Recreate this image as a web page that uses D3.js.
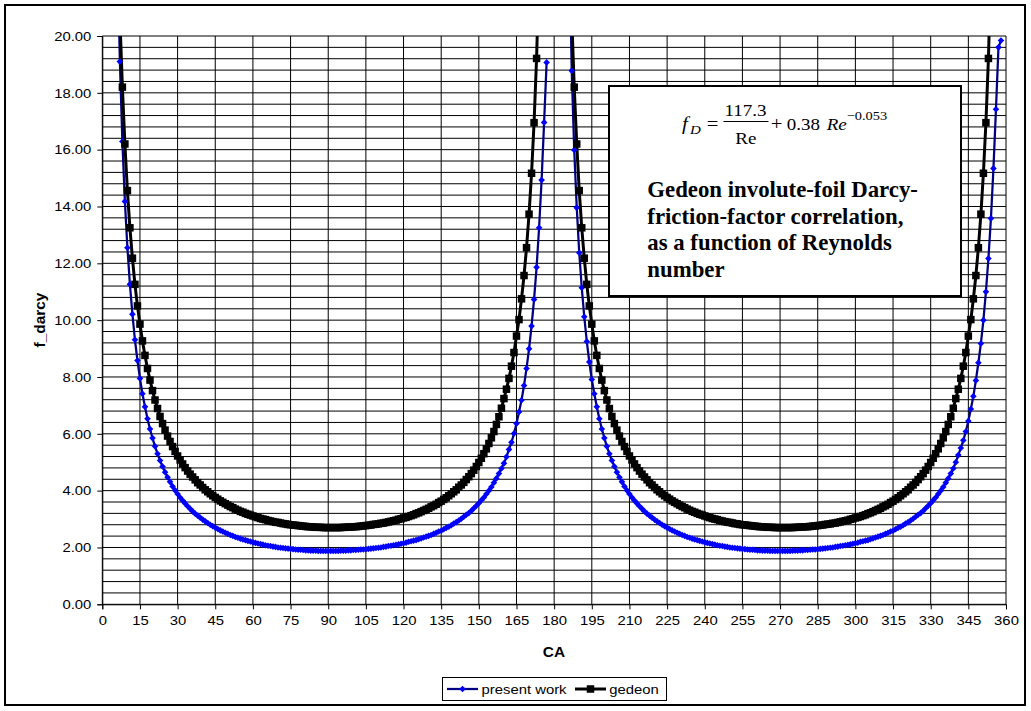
<!DOCTYPE html>
<html><head><meta charset="utf-8">
<script src="https://cdn.jsdelivr.net/npm/d3@7"></script>
<style>body{margin:0;background:#fff;}svg{display:block;}</style>
</head><body>
<svg id="chart" width="1031" height="711"></svg>
<script>
// ---------------- data ----------------
const xTickValues = [0,15,30,45,60,75,90,105,120,135,150,165,180,195,210,225,240,255,270,285,300,315,330,345,360];
const yTickValues = [0,2,4,6,8,10,12,14,16,18,20];
const seriesNames = ["present work", "gedeon"];

// present work: one value per degree of CA, starting at CA = presentStart (null = no point)
const presentStart = 6;
const present = [
 23.07,19.10,16.29,14.18,12.55,11.26,10.21,9.31,8.58,7.95,
 7.41,6.95,6.53,6.17,5.85,5.56,5.30,5.06,4.85,4.65,
 4.47,4.31,4.15,4.01,3.88,3.76,3.65,3.55,3.45,3.36,
 3.27,3.19,3.12,3.05,2.98,2.92,2.86,2.80,2.75,2.70,
 2.65,2.60,2.56,2.52,2.48,2.44,2.41,2.37,2.34,2.31,
 2.28,2.26,2.23,2.21,2.18,2.16,2.14,2.12,2.10,2.08,
 2.06,2.05,2.03,2.02,2.00,1.99,1.98,1.97,1.96,1.95,
 1.94,1.93,1.92,1.92,1.91,1.90,1.90,1.89,1.89,1.89,
 1.88,1.88,1.88,1.88,1.88,1.88,1.88,1.88,1.88,1.89,
 1.89,1.89,1.90,1.90,1.91,1.91,1.92,1.93,1.93,1.94,
 1.95,1.96,1.97,1.98,1.99,2.00,2.02,2.03,2.05,2.06,
 2.08,2.09,2.11,2.13,2.15,2.17,2.20,2.22,2.24,2.26,
 2.29,2.32,2.35,2.38,2.41,2.44,2.48,2.52,2.56,2.59,
 2.64,2.69,2.73,2.78,2.84,2.89,2.95,3.01,3.08,3.15,
 3.21,3.29,3.38,3.47,3.56,3.66,3.76,3.88,4.00,4.13,
 4.28,4.43,4.60,4.78,4.96,5.19,5.45,5.70,6.01,6.36,
 6.77,7.18,7.70,8.30,8.99,9.79,10.73,11.86,13.25,14.93,
 16.96,19.07,
 null,null,null,null,null,null,null,null,
 23.50,18.78,15.99,13.96,12.37,11.14,10.12,9.25,8.53,7.91,
 7.41,6.95,6.53,6.17,5.85,5.56,5.30,5.06,4.85,4.65,
 4.47,4.31,4.15,4.01,3.88,3.76,3.65,3.55,3.45,3.36,
 3.27,3.19,3.12,3.05,2.98,2.92,2.86,2.80,2.75,2.70,
 2.65,2.60,2.56,2.52,2.48,2.44,2.41,2.37,2.34,2.31,
 2.28,2.26,2.23,2.21,2.18,2.16,2.14,2.12,2.10,2.08,
 2.06,2.05,2.03,2.02,2.00,1.99,1.98,1.97,1.96,1.95,
 1.94,1.93,1.92,1.92,1.91,1.90,1.90,1.89,1.89,1.89,
 1.88,1.88,1.88,1.88,1.88,1.88,1.88,1.88,1.88,1.89,
 1.89,1.89,1.90,1.90,1.91,1.91,1.92,1.93,1.93,1.94,
 1.95,1.96,1.97,1.98,1.99,2.00,2.02,2.03,2.05,2.06,
 2.08,2.09,2.11,2.13,2.15,2.17,2.20,2.22,2.24,2.26,
 2.29,2.32,2.35,2.38,2.41,2.44,2.48,2.52,2.56,2.59,
 2.64,2.69,2.73,2.78,2.84,2.89,2.95,3.01,3.08,3.15,
 3.21,3.29,3.38,3.47,3.56,3.66,3.76,3.88,4.00,4.13,
 4.28,4.43,4.60,4.78,5.00,5.25,5.50,5.77,6.08,6.45,
 6.87,7.32,7.88,8.50,9.18,10.00,11.00,12.17,13.58,15.34,
 17.42,19.60,19.84
];

// gedeon: one value per degree of CA, starting at CA = gedeonStart (null = no point)
const gedeonStart = 7;
const gedeon = [
 20.64,18.20,16.20,14.56,13.25,12.18,11.26,10.50,9.86,9.27,
 8.76,8.30,7.89,7.52,7.19,6.89,6.61,6.36,6.13,5.92,
 5.73,5.55,5.38,5.22,5.08,4.94,4.81,4.69,4.58,4.48,
 4.38,4.28,4.20,4.11,4.03,3.96,3.89,3.82,3.76,3.70,
 3.64,3.59,3.54,3.49,3.44,3.40,3.35,3.31,3.27,3.24,
 3.20,3.17,3.14,3.11,3.08,3.05,3.02,3.00,2.98,2.95,
 2.93,2.91,2.89,2.88,2.86,2.84,2.83,2.81,2.80,2.79,
 2.78,2.77,2.76,2.75,2.74,2.73,2.73,2.72,2.71,2.71,
 2.71,2.70,2.70,2.70,2.70,2.70,2.70,2.70,2.70,2.71,
 2.71,2.72,2.72,2.73,2.73,2.74,2.75,2.76,2.77,2.78,
 2.79,2.81,2.82,2.83,2.85,2.86,2.88,2.90,2.92,2.94,
 2.96,2.99,3.01,3.04,3.06,3.09,3.12,3.15,3.19,3.22,
 3.26,3.30,3.34,3.38,3.43,3.47,3.52,3.58,3.63,3.69,
 3.75,3.82,3.89,3.96,4.03,4.12,4.20,4.29,4.39,4.49,
 4.60,4.72,4.85,4.99,5.14,5.30,5.47,5.66,5.86,6.08,
 6.33,6.60,6.90,7.24,7.57,7.95,8.38,8.86,9.44,10.02,
 10.75,11.57,12.55,13.73,15.17,16.95,19.21,22.40,
 null,null,null,null,null,null,null,null,null,null,null,null,
 20.64,18.20,16.20,14.56,13.25,12.18,11.26,10.50,9.86,9.27,
 8.76,8.30,7.89,7.52,7.19,6.89,6.61,6.36,6.13,5.92,
 5.73,5.55,5.38,5.22,5.08,4.94,4.81,4.69,4.58,4.48,
 4.38,4.28,4.20,4.11,4.03,3.96,3.89,3.82,3.76,3.70,
 3.64,3.59,3.54,3.49,3.44,3.40,3.35,3.31,3.27,3.24,
 3.20,3.17,3.14,3.11,3.08,3.05,3.02,3.00,2.98,2.95,
 2.93,2.91,2.89,2.88,2.86,2.84,2.83,2.81,2.80,2.79,
 2.78,2.77,2.76,2.75,2.74,2.73,2.73,2.72,2.71,2.71,
 2.71,2.70,2.70,2.70,2.70,2.70,2.70,2.70,2.70,2.71,
 2.71,2.72,2.72,2.73,2.73,2.74,2.75,2.76,2.77,2.78,
 2.79,2.81,2.82,2.83,2.85,2.86,2.88,2.90,2.92,2.94,
 2.96,2.99,3.01,3.04,3.06,3.09,3.12,3.15,3.19,3.22,
 3.26,3.30,3.34,3.38,3.43,3.47,3.52,3.58,3.63,3.69,
 3.75,3.82,3.89,3.96,4.03,4.12,4.20,4.29,4.39,4.49,
 4.60,4.72,4.85,4.99,5.14,5.30,5.47,5.66,5.86,6.08,
 6.33,6.60,6.90,7.24,7.57,7.95,8.38,8.86,9.44,10.02,
 10.75,11.57,12.55,13.73,15.17,16.95,19.21,22.40
];

const noteLines = ["Gedeon involute-foil Darcy-", "friction-factor correlation,", "as a function of Reynolds", "number"];

// ---------------- drawing ----------------
const svg = d3.select("#chart");
const W = 1031, H = 711;
const SANS = "'Liberation Sans', Arial, sans-serif";
const SERIF = "'Liberation Serif', 'Times New Roman', serif";
const K = 1.15; // horizontal stretch of the original's text

function stretch(sel, k) {
  sel.each(function () {
    const L = this.getComputedTextLength();
    d3.select(this).attr("textLength", L * k).attr("lengthAdjust", "spacingAndGlyphs");
  });
}

svg.append("rect").attr("width", W).attr("height", H).attr("fill", "#fff");
svg.append("rect").attr("x", 5).attr("y", 5).attr("width", 1020).attr("height", 700)
  .attr("fill", "#fff").attr("stroke", "#000").attr("stroke-width", 2);

const x = d3.scaleLinear().domain([0, 360]).range([102.3, 1006]);
const y = d3.scaleLinear().domain([0, 20]).range([604.3, 36]);

// grid
const grid = svg.append("g");
grid.selectAll("line.h").data(d3.range(0, 20.0001, 0.4)).join("line")
  .attr("x1", x(0)).attr("x2", x(360)).attr("y1", d => y(d)).attr("y2", d => y(d))
  .attr("stroke", "#000").attr("stroke-width", 1);
grid.selectAll("line.v").data(xTickValues).join("line")
  .attr("x1", d => x(d)).attr("x2", d => x(d)).attr("y1", y(0)).attr("y2", y(20))
  .attr("stroke", "#000").attr("stroke-width", 1);

// axes
const xAxis = svg.append("g").attr("transform", `translate(0,${y(0)})`)
  .call(d3.axisBottom(x).tickValues(xTickValues).tickSize(5).tickPadding(6).tickFormat(d3.format("d")));
const yAxis = svg.append("g").attr("transform", `translate(${x(0)},0)`)
  .call(d3.axisLeft(y).tickValues(yTickValues).tickSize(5).tickPadding(6).tickFormat(d3.format(".2f")));
[xAxis, yAxis].forEach(a => {
  a.select(".domain").attr("stroke", "#000").attr("stroke-width", 1);
  a.selectAll(".tick line").attr("stroke", "#000");
  a.selectAll("text").attr("font-family", SANS).attr("font-size", 13.5).attr("fill", "#000");
  stretch(a.selectAll("text"), 1.1);
});
xAxis.selectAll("text").attr("dy", "0.71em");

// axis titles
const tX = svg.append("text").attr("x", 554).attr("y", 657).attr("text-anchor", "middle")
  .attr("font-family", SANS).attr("font-size", 14).attr("font-weight", "bold").text("CA");
stretch(tX, 1.1);
const tY = svg.append("text").attr("transform", "translate(45,320) rotate(-90)").attr("text-anchor", "middle")
  .attr("font-family", SANS).attr("font-size", 14).attr("font-weight", "bold").text("f_darcy");
stretch(tY, 1.1);

// series
const pData = present.map((v, i) => ({ ca: presentStart + i, v }));
const gData = gedeon.map((v, i) => ({ ca: gedeonStart + i, v }));

svg.append("clipPath").attr("id", "plotclip").append("rect")
  .attr("x", x(0) - 2).attr("y", y(20)).attr("width", x(360) - x(0) + 4).attr("height", y(0) - y(20));

const line = d3.line().defined(d => d.v != null).x(d => x(d.ca)).y(d => y(d.v));
const plot = svg.append("g").attr("clip-path", "url(#plotclip)");
const inRange = d => d.v != null && d.v <= 20 && d.v >= 0;

plot.append("path").datum(pData).attr("d", line).attr("fill", "none")
  .attr("stroke", "#000080").attr("stroke-width", 2.25).attr("stroke-linejoin", "round");
svg.append("g").selectAll("path").data(pData.filter(inRange)).join("path")
  .attr("d", d3.symbol(d3.symbolDiamond2, 28))
  .attr("transform", d => `translate(${x(d.ca)},${y(d.v)})`).attr("fill", "#0000ff");

plot.append("path").datum(gData).attr("d", line).attr("fill", "none")
  .attr("stroke", "#000").attr("stroke-width", 3).attr("stroke-linejoin", "round");
svg.append("g").selectAll("rect").data(gData.filter(inRange)).join("rect")
  .attr("x", d => x(d.ca) - 3.75).attr("y", d => y(d.v) - 3.75)
  .attr("width", 7.5).attr("height", 7.5).attr("fill", "#000");

// note box
svg.append("rect").attr("x", 609).attr("y", 86).attr("width", 352).attr("height", 210)
  .attr("fill", "#fff").attr("stroke", "#000").attr("stroke-width", 2);
const fm = svg.append("g").attr("font-family", SERIF).attr("fill", "#000");
const fmText = (tx, ty, s, size, style, anchor) => {
  const t = fm.append("text").attr("x", tx).attr("y", ty).attr("font-size", size)
    .attr("font-style", style || "normal").attr("text-anchor", anchor || "start").text(s);
  stretch(t, K);
  return t;
};
fmText(682, 129.5, "f", 18, "italic");
fmText(690, 133.5, "D", 13, "italic");
fmText(712.5, 129.5, "=", 18, "normal", "middle");
fmText(745.5, 116, "117.3", 16.5, "normal", "middle");
fm.append("line").attr("x1", 723.5).attr("x2", 768.5).attr("y1", 121.5).attr("y2", 121.5)
  .attr("stroke", "#000").attr("stroke-width", 1);
fmText(745.8, 143.5, "Re", 16.5, "normal", "middle");
fmText(776.7, 129.5, "+", 18, "normal", "middle");
fmText(786.7, 129.5, "0.38", 16.5);
fmText(826.7, 129.5, "Re", 16.5, "italic");
fmText(846.7, 120, "\u22120.053", 12.5);

const note = svg.append("g").attr("font-family", SERIF).attr("font-weight", "bold").attr("font-size", 24);
const nt = note.selectAll("text").data(noteLines).join("text")
  .attr("x", 647.3).attr("y", (d, i) => 197 + i * 26.6).text(d => d);
stretch(nt, 0.95);

// legend
const lg = svg.append("g");
lg.append("rect").attr("x", 442.5).attr("y", 677.5).attr("width", 224).attr("height", 23)
  .attr("fill", "#fff").attr("stroke", "#000").attr("stroke-width", 1);
lg.append("line").attr("x1", 447).attr("x2", 478).attr("y1", 689).attr("y2", 689)
  .attr("stroke", "#000080").attr("stroke-width", 2.25);
lg.append("path").attr("d", d3.symbol(d3.symbolDiamond2, 28))
  .attr("transform", "translate(462.5,689)").attr("fill", "#0000ff");
lg.append("line").attr("x1", 575).attr("x2", 606).attr("y1", 689).attr("y2", 689)
  .attr("stroke", "#000").attr("stroke-width", 3);
lg.append("rect").attr("x", 590.5 - 3.75).attr("y", 689 - 3.75).attr("width", 7.5).attr("height", 7.5).attr("fill", "#000");
const lt = lg.selectAll("text.lt").data(seriesNames).join("text")
  .attr("x", (d, i) => i === 0 ? 481.5 : 609.3).attr("y", 694)
  .attr("font-family", SANS).attr("font-size", 13.5).text(d => d);
stretch(lt, 1.1);
</script>
</body></html>
